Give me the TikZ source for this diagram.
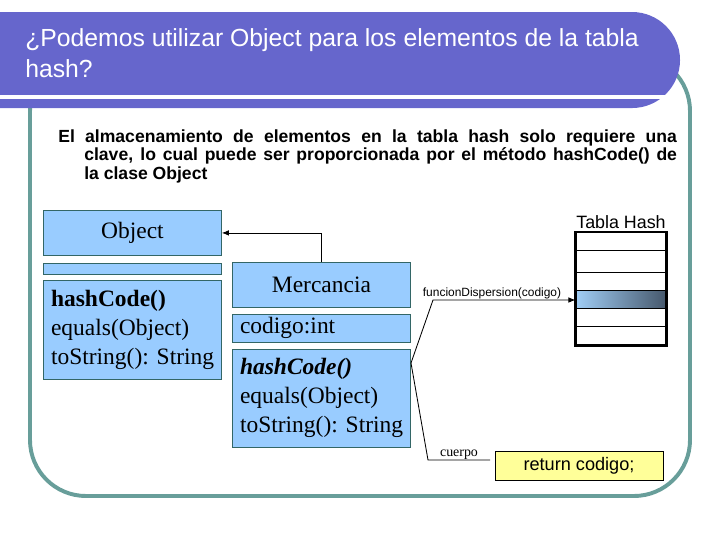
\documentclass[tikz,border=0pt]{standalone}
\usepackage{fontspec}
\setmainfont{Liberation Sans}
\newfontfamily\umlfont{Liberation Serif}
\usepackage{xcolor}
\usetikzlibrary{arrows.meta, positioning, fit}

\definecolor{titlecol}{RGB}{102,102,204}
\definecolor{framecol}{RGB}{104,158,154}
\definecolor{clsfill}{RGB}{153,204,255}
\definecolor{clsline}{RGB}{51,102,102}
\definecolor{retfill}{RGB}{255,255,153}
\definecolor{hashlt}{RGB}{160,205,245}
\definecolor{hashdk}{RGB}{70,88,108}

\begin{document}
\begin{tikzpicture}[
  x=0.025cm, y=-0.025cm,
  cls/.style={draw=clsline, fill=clsfill, line width=0.6pt, inner sep=0pt, font=\umlfont\fontsize{16.7}{20.5}\selectfont},
  hdr/.style={cls, minimum width=4.45cm, minimum height=1.125cm},
  lst/.style={cls, align=left, inner xsep=0.19cm, text width=4.07cm},
  cellbox/.style={draw, line width=0.8pt, inner sep=0pt},
  note/.style={line width=0.6pt},
]
\useasboundingbox (0,0) rectangle (728,546);
\draw[framecol, line width=2.8pt, rounded corners=1.4cm] (30,55) rectangle (690,496);
\fill[titlecol] (0,12) -- (632,12) arc[start angle=90, end angle=-90, radius=1.2cm] -- (0,108) -- cycle;
\draw[white, line width=2.2pt] (0,97) -- (665,97);
\node[anchor=north west, inner sep=0pt, align=left, text=white, font=\fontsize{17.6}{22}\selectfont] (titulo) at (25,28) {¿Podemos utilizar Object para los elementos de la tabla\\hash?};
\node[anchor=north west, inner sep=0pt, text width=440pt, align=justify, font=\bfseries\fontsize{12.5}{13.2}\selectfont] (intro) at (58,129)
  {\noindent\hangindent=18.5pt\hangafter=1 El almacenamiento de elementos en la tabla hash solo requiere una\linebreak clave, lo cual puede ser proporcionada por el método hashCode() de\linebreak la clase Object\par};

\node[hdr, anchor=north west] (obj) at (43,210) {Object};
\node[hdr, minimum height=0.275cm, below=0.175cm of obj] (objattr) {};
\node[lst, minimum height=2.475cm, below=0.125cm of objattr] (objops) {\textbf{hashCode()}\\equals(Object)\\toString():~String};

\node[hdr, anchor=north west] (merc) at (232,262) {Mercancia};
\node[lst, minimum height=0.7cm, below=0.15cm of merc] (mercattr) {codigo:int};
\node[lst, minimum height=2.45cm, below=0.15cm of mercattr] (mercops) {\textbf{\textit{hashCode()}}\\equals(Object)\\toString():~String};
\draw[note, -{Latex[length=5pt,width=4pt]}] (merc.north) |- (obj.east);

\foreach \i/\a/\b in {1/232.7/250.7, 2/250.7/272.3, 3/272.3/290.7, 5/308.3/326.7, 6/326.7/345}
  \node[cellbox, fit={(576,\a) (666,\b)}] (cell\i) {};
\node[cellbox, left color=hashlt, right color=hashdk, fit={(576,290.7) (666,308.3)}] (cell4) {};
\draw[line width=1.4pt] (cell1.north west) rectangle (cell6.south east);
\node[above=0pt of cell1, inner sep=2pt, font=\fontsize{12.7}{15}\selectfont] (tabla) {Tabla Hash};

\node[draw, fill=retfill, line width=0.6pt, minimum width=4.2cm, minimum height=0.725cm, font=\fontsize{12.9}{15}\selectfont] (ret) at (579,466) {return codigo;};

\coordinate (nota) at (411,363);
\coordinate (fbend) at (433,300);
\coordinate (cbend) at (428,460);
\coordinate (cend) at (490,460);
\draw[note, -{Latex[length=5pt,width=4pt]}] (nota) -- (fbend) -- (fbend -| cell4.west);
\draw[note] (nota) -- (cbend) -- (cend);
\node[anchor=base, inner sep=0pt, font=\fontsize{8.5}{10}\selectfont] (fdisp) at (492,296) {funcionDispersion(codigo)};
\node[anchor=base, inner sep=0pt, font=\umlfont\fontsize{9.9}{12}\selectfont] (cuerpo) at (459,456) {cuerpo};
\end{tikzpicture}
\end{document}
